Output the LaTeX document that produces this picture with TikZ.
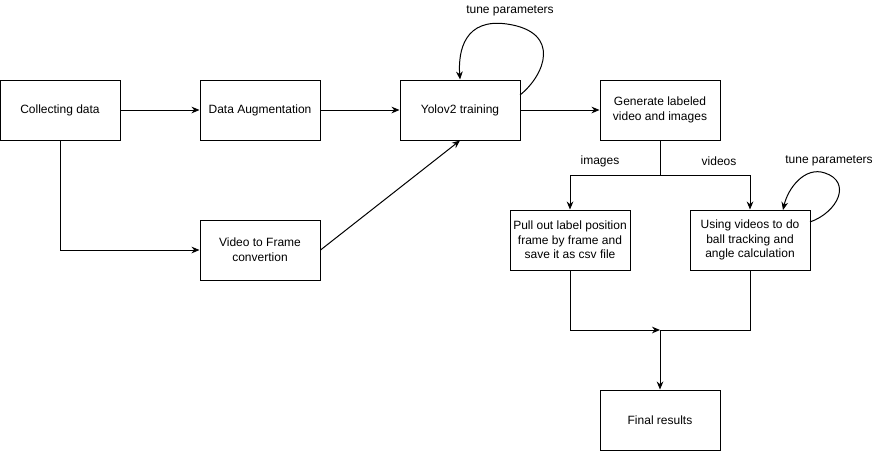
\documentclass[tikz,border=0pt]{standalone}
\usepackage{fontspec}
\setmainfont{Liberation Sans}
\usetikzlibrary{arrows.meta}
\begin{document}
\begin{tikzpicture}[x=0.75pt,y=-0.75pt,
  box/.style={draw,line width=0.75pt,minimum width=90pt,minimum height=45pt,align=center,inner sep=0pt,font=\fontsize{9pt}{11pt}\selectfont},
  lbl/.style={font=\fontsize{9pt}{11pt}\selectfont,inner sep=0pt},
  arr/.style={line width=0.75pt,-{Stealth[length=6pt,width=5pt]}},
  ln/.style={line width=0.75pt}]
\useasboundingbox (0,0) rectangle (881,451);
\fill[white] (0,0) rectangle (881,451);
\node[box] (collect) at (60,110) {Collecting data};
\node[box] (aug) at (260,110) {Data Augmentation};
\node[box] (v2f) at (260,250) {Video to Frame\\convertion};
\node[box] (yolo) at (460,110) {Yolov2 training};
\node[box] (gen) at (660,110) {Generate labeled\\video and images};
\node[box] (pull) at (570,240) {Pull out label position\\frame by frame and\\save it as csv file};
\node[box] (use) at (750,240) {Using videos to do\\ball tracking and\\angle calculation};
\node[box] (final) at (660,420) {Final results};
\node[lbl] (t1) at (510,11) {tune parameters};
\node[lbl] (t2) at (829,161) {tune parameters};
\node[lbl] (img) at (600,161) {images};
\node[lbl] (vid) at (719,161) {videos};
\coordinate (split) at (660,175);
\coordinate (join) at (660,330);
\coordinate (ys) at (520,95);
\coordinate (us) at (810,222);
\coordinate (ue) at (783,210);
\draw[arr] (collect) -- (aug);
\draw[arr] (collect.south) |- (v2f.west);
\draw[arr] (aug) -- (yolo);
\draw[arr] (v2f.east) -- (yolo.south);
\draw[arr] (yolo) -- (gen);
\draw[ln] (gen.south) -- (split);
\draw[arr] (split) -| (pull.north);
\draw[arr] (split) -| (use.north);
\draw[arr] (pull.south) |- (join);
\draw[ln] (use.south) |- (join);
\draw[arr] (join) -- (final.north);
\draw[arr] (ys) .. controls (545,75) and (562,32) .. (507,24) .. controls (465,18) and (458,50) .. (yolo.north);
\draw[arr] (us) .. controls (838,212) and (852,182) .. (825,173) .. controls (805,166) and (788,188) .. (ue);
\end{tikzpicture}
\end{document}
